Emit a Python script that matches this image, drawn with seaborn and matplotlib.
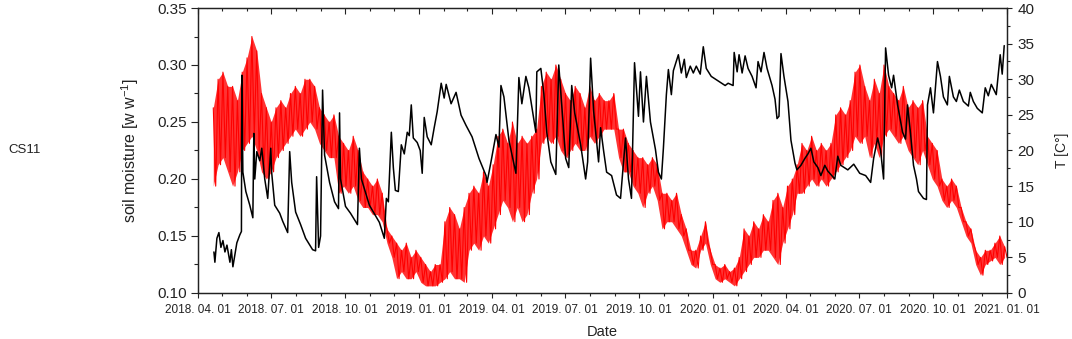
import numpy as np
import pandas as pd
import seaborn as sns
import matplotlib
matplotlib.use('Agg')
from matplotlib import pyplot as plt
import matplotlib.dates as mdates
from matplotlib.ticker import MultipleLocator, FormatStrFormatter

# soil moisture (w w-1), sampled at days after 2018-04-01
sm_day = [19.8, 21, 23.5, 26, 28.5, 31, 33.5, 36, 39.7, 41.5,
          43.4, 45.8, 48.3, 52, 54, 54.5, 55.8, 59.5, 64.4, 68.2,
          69.4, 70.6, 73.1, 76.8, 79.3, 83, 86.7, 90.5, 91.7, 95.4,
          101.6, 105.3, 111.5, 114, 116.5, 121.4, 127.6, 133.8, 142.5, 146.2,
          147.5, 150, 152.4, 154.9, 157.4, 163.6, 169.8, 174.7, 176, 177.2,
          183.4, 189.6, 198.3, 200.7, 203.2, 213.1, 225.5, 231.7, 234.2, 236.7,
          240.4, 242.9, 245.4, 249.1, 252.8, 256.5, 260.2, 262.7, 265.2, 267.7,
          272.6, 276.3, 278.8, 281.3, 285, 290, 293.7, 297.4, 302.4, 306.1,
          308.6, 314.7, 320.9, 327.1, 333.3, 340.8, 349.4, 358.1, 359.4, 364.3,
          370.5, 374.2, 376.7, 380.4, 386.6, 395.3, 399, 402.7, 407.7, 411.4,
          420.1, 421.3, 426.3, 430, 433.7, 438.7, 444.9, 448.6, 452.3, 457.2,
          461, 464.7, 468.4, 475.8, 482, 484.5, 488.2, 491.9, 498.1, 500.6,
          504.3, 508.1, 514.3, 520.4, 525.4, 531.6, 535.3, 539, 542.8, 547.7,
          550.2, 553.9, 557.6, 562.6, 568.8, 572.5, 576.2, 578.7, 582.4, 584.9,
          588.6, 591.1, 597.3, 601, 604.7, 607.2, 612.1, 615.9, 619.6, 624.5,
          628.3, 632, 638.2, 646.8, 655.5, 659.2, 665.4, 666.7, 670.4, 672.8,
          676.6, 680.3, 684, 689, 693.9, 696.4, 700.1, 703.8, 707.6, 713.8,
          717.5, 720, 722.4, 724.9, 728.6, 733.6, 737.3, 742.3, 744.7, 749.7,
          754.6, 758.4, 762.1, 765.8, 770.8, 774.5, 779.4, 783.1, 788.1, 791.8,
          795.5, 799.3, 808, 815.4, 822.8, 830.2, 836.4, 840.1, 845.1, 848.8,
          852.5, 855, 858.7, 862.5, 864.9, 869.9, 876.1, 879.8, 882.3, 886,
          889.7, 893.4, 895.9, 902.1, 905.8, 907.1, 910.8, 914.5, 919.5, 923.2,
          926.9, 931.8, 934.3, 939.3, 943, 946.7, 951.7, 957.9, 960.3, 964.1,
          969, 975.2, 978.9, 982.7, 986.4, 992.6, 997.5, 1000, 1002.5]
sm_val = [0.136, 0.127, 0.148, 0.153, 0.140, 0.146, 0.136, 0.142, 0.127, 0.138,
          0.123, 0.133, 0.144, 0.151, 0.154, 0.291, 0.206, 0.189, 0.177, 0.166,
          0.240, 0.200, 0.224, 0.216, 0.227, 0.200, 0.183, 0.227, 0.205, 0.177,
          0.170, 0.163, 0.153, 0.224, 0.197, 0.171, 0.160, 0.148, 0.138, 0.137,
          0.202, 0.140, 0.150, 0.278, 0.221, 0.197, 0.180, 0.174, 0.258, 0.200,
          0.176, 0.170, 0.160, 0.227, 0.200, 0.177, 0.162, 0.148, 0.183, 0.180,
          0.241, 0.210, 0.190, 0.189, 0.230, 0.222, 0.241, 0.238, 0.265, 0.236,
          0.232, 0.225, 0.205, 0.254, 0.237, 0.230, 0.245, 0.259, 0.284, 0.271,
          0.283, 0.266, 0.276, 0.256, 0.247, 0.237, 0.218, 0.203, 0.197, 0.215,
          0.239, 0.228, 0.282, 0.272, 0.234, 0.205, 0.289, 0.266, 0.290, 0.280,
          0.241, 0.294, 0.297, 0.275, 0.241, 0.215, 0.204, 0.300, 0.265, 0.218,
          0.210, 0.282, 0.258, 0.230, 0.200, 0.215, 0.306, 0.260, 0.215, 0.245,
          0.225, 0.206, 0.203, 0.186, 0.183, 0.236, 0.200, 0.183, 0.302, 0.255,
          0.294, 0.250, 0.290, 0.250, 0.226, 0.206, 0.200, 0.227, 0.274, 0.296,
          0.274, 0.295, 0.309, 0.293, 0.305, 0.289, 0.299, 0.293, 0.299, 0.292,
          0.316, 0.297, 0.290, 0.286, 0.282, 0.284, 0.282, 0.311, 0.294, 0.309,
          0.293, 0.308, 0.297, 0.290, 0.280, 0.303, 0.294, 0.311, 0.297, 0.282,
          0.270, 0.253, 0.255, 0.310, 0.290, 0.268, 0.234, 0.214, 0.208, 0.212,
          0.218, 0.222, 0.227, 0.215, 0.210, 0.203, 0.212, 0.207, 0.203, 0.200,
          0.220, 0.212, 0.208, 0.213, 0.205, 0.203, 0.197, 0.218, 0.236, 0.225,
          0.200, 0.315, 0.291, 0.280, 0.291, 0.265, 0.241, 0.235, 0.265, 0.240,
          0.212, 0.200, 0.189, 0.183, 0.182, 0.265, 0.280, 0.258, 0.303, 0.290,
          0.272, 0.265, 0.290, 0.272, 0.268, 0.278, 0.268, 0.264, 0.276, 0.268,
          0.262, 0.258, 0.280, 0.273, 0.283, 0.274, 0.309, 0.292, 0.317]

# temperature (C): daily highs / lows read every 6 days from 2018-04-20
temp_hi = [26, 30, 31, 29, 29, 27, 31, 33, 36, 34,
           28, 26, 24, 26, 27, 26, 28, 29, 28, 30,
           30, 29, 26, 25, 24, 25, 22, 21, 20, 22,
           20, 17, 16, 15, 16, 14, 9, 8, 7, 6,
           7, 5, 6, 5, 4, 3, 4, 4, 10, 12,
           11, 9, 12, 14, 15, 14, 17, 15, 18, 22,
           23, 21, 24, 21, 22, 21, 22, 23, 29, 31,
           30, 32, 30, 28, 27, 29, 28, 26, 29, 27,
           28, 27, 27, 28, 23, 23, 21, 20, 19, 19,
           18, 19, 18, 14, 14, 13, 14, 11, 9, 6,
           6, 8, 10, 6, 4, 3.5, 4, 3, 3.5, 5,
           9, 8, 10, 9, 11, 10, 13, 14, 12, 15,
           16, 18, 21, 20, 22, 20, 21, 20, 21, 25,
           26, 25, 27, 31, 32, 29, 27, 30, 28, 32,
           29, 28, 27, 29, 26, 27, 26, 27, 22, 21,
           20, 16, 15, 16, 15, 12, 10, 9, 6, 5,
           6, 6, 7, 8, 6.5]
temp_lo = [15, 18, 19, 17, 15, 17, 20, 21, 22, 20,
           17, 16, 17, 19, 20, 21, 22, 23, 22, 23,
           24, 23, 21, 20, 19, 19, 14, 15, 14, 15,
           13, 12, 12, 11, 11, 10, 7, 5, 2, 3,
           2, 2, 3, 1.5, 1, 1, 1, 1.5, 2, 3,
           2, 2, 1.5, 6, 7, 6, 8, 7, 9, 11,
           13, 12, 10, 12, 10, 11, 14, 16, 21, 22,
           21, 22, 20, 19, 20, 21, 20, 20, 22, 21,
           22, 23, 23, 23, 19, 17, 17, 15, 14, 12,
           14, 15, 13, 9, 10, 10, 9, 8, 6, 4,
           3.5, 6, 7, 4, 2, 1.5, 2, 1.5, 1, 2,
           3, 4, 5, 5, 6, 6, 5, 4, 7, 9,
           11, 14, 14, 15, 16, 15, 16, 15, 16, 17,
           18, 19, 20, 22, 21, 22, 19, 21, 19, 22,
           23, 22, 21, 22, 20, 19, 18, 20, 18, 16,
           15, 13, 12, 13, 12, 10, 8, 7, 4, 2.5,
           4, 4.5, 5, 4, 5]

sns.set_style('ticks')
plt.rcParams['font.family'] = ['Liberation Sans', 'DejaVu Sans']
plt.rcParams['mathtext.default'] = 'regular'

origin = pd.Timestamp('2018-04-01')
sm = pd.DataFrame({'date': origin + pd.to_timedelta(sm_day, unit='D'), 'sm': sm_val})

hi_dates = pd.date_range('2018-04-20', periods=len(temp_hi), freq='6D')
lo_dates = hi_dates + pd.Timedelta(days=3)
temp = pd.DataFrame({'date': list(hi_dates) + list(lo_dates),
                     'T': temp_hi + temp_lo}).sort_values('date')

fig = plt.figure(figsize=(10.72, 3.39), dpi=100)
ax = fig.add_axes([0.1847, 0.1357, 0.7547, 0.8407])
ax2 = ax.twinx()

# daily range as a dense red band, with the high/low swings drawn over it
ax2.fill_between(hi_dates, temp_lo, temp_hi, color='red', alpha=0.8, lw=0)
sns.lineplot(data=temp, x='date', y='T', ax=ax2, color='red', lw=0.8,
             estimator=None, sort=False)
sns.lineplot(data=sm, x='date', y='sm', ax=ax, color='black', lw=1.1,
             estimator=None, sort=False)

# black line on top of red
ax.set_zorder(ax2.get_zorder() + 1)
ax.patch.set_visible(False)

ax.set_xlim(pd.Timestamp('2018-04-01'), pd.Timestamp('2021-01-01'))
ax.set_ylim(0.10, 0.35)
ax2.set_ylim(0, 40)

ax.xaxis.set_major_locator(mdates.MonthLocator(bymonth=[1, 4, 7, 10]))
ax.xaxis.set_minor_locator(mdates.MonthLocator())
ax.xaxis.set_major_formatter(mdates.DateFormatter('%Y. %m. %d'))
ax.yaxis.set_major_locator(MultipleLocator(0.05))
ax.yaxis.set_minor_locator(MultipleLocator(0.025))
ax.yaxis.set_major_formatter(FormatStrFormatter('%.2f'))
ax2.yaxis.set_major_locator(MultipleLocator(5))
ax2.yaxis.set_minor_locator(MultipleLocator(2.5))

tc = '#222222'
ax.tick_params(axis='x', which='major', direction='out', length=3.6, width=0.8,
               pad=4, labelsize=8.5, colors=tc)
ax.tick_params(axis='x', which='minor', direction='out', length=2, width=0.8, colors=tc)
ax.tick_params(axis='y', which='major', direction='out', length=5, width=0.8,
               pad=3, labelsize=11, colors=tc)
ax.tick_params(axis='y', which='minor', direction='out', length=3, width=0.8, colors=tc)
ax2.tick_params(axis='y', which='major', direction='out', length=3.6, width=0.8,
                pad=4, labelsize=11, colors=tc)
ax2.tick_params(axis='y', which='minor', direction='out', length=2.2, width=0.8, colors=tc)

# inward ticks along the top edge
ax2.xaxis.set_visible(True)
ax2.xaxis.tick_top()
ax2.tick_params(axis='x', which='major', direction='in', length=4, width=0.8,
                labeltop=False, colors=tc)
ax2.tick_params(axis='x', which='minor', direction='in', length=2.5, width=0.8,
                labeltop=False, colors=tc)
ax2.set_xlabel('')

for a in (ax, ax2):
    for s in a.spines.values():
        s.set_linewidth(0.9)
        s.set_color(tc)

ax.set_xlabel('Date', fontsize=10.5, color=tc)
ax.xaxis.set_label_coords(0.5, -0.112)
ax.set_ylabel('soil moisture [w w$^{-1}$]', fontsize=11.5, color=tc)
ax.yaxis.set_label_coords(-0.0705, 0.5)
ax2.set_ylabel('T [C°]', fontsize=10, color=tc)
ax2.yaxis.set_label_coords(1.0593, 0.5)

fig.text(8 / 1072, 1 - 150 / 339, 'CS11', fontsize=9.5, va='center', color=tc)

fig.savefig('out.png', dpi=100)
